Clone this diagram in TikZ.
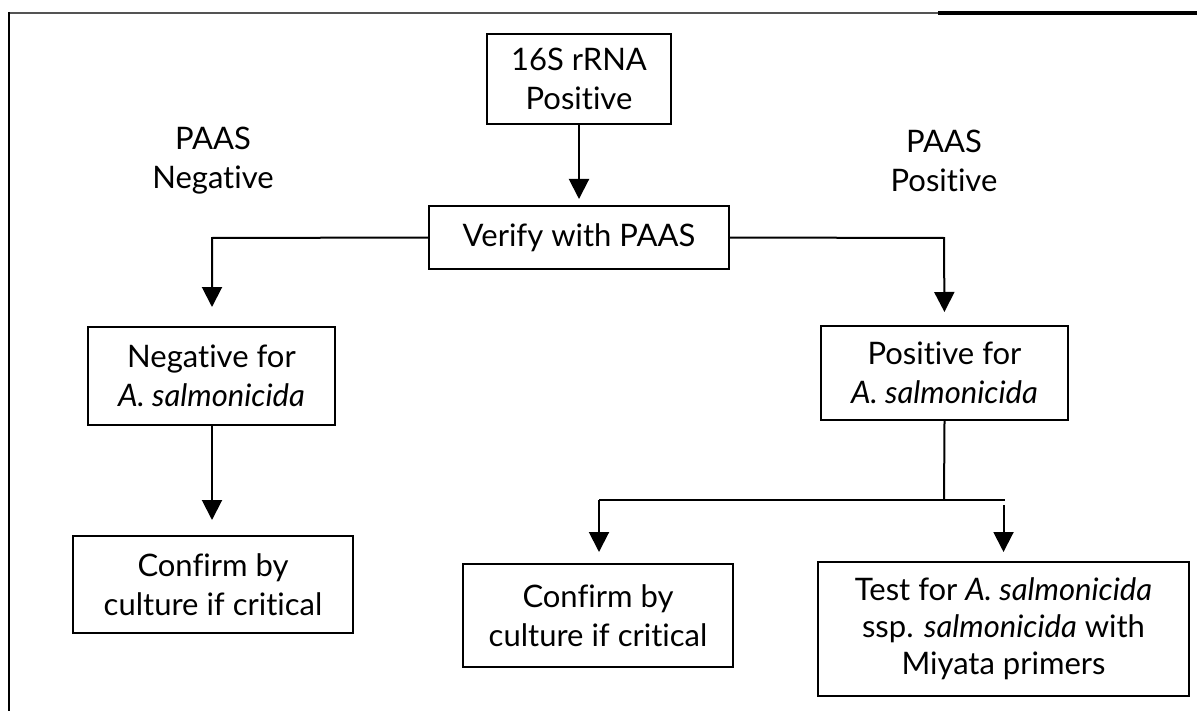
\documentclass[tikz,border=0pt]{standalone}
\usepackage{fontspec}
\setmainfont[Ligatures=CommonOff]{Lato}
\usetikzlibrary{arrows.meta}
\begin{document}
\begin{tikzpicture}[x=0.5pt,y=-0.5pt,
  box/.style={draw,line width=1pt,inner sep=0pt,align=center,font=\fontsize{15.5}{19.5}\selectfont},
  lbl/.style={align=center,inner sep=0pt,font=\fontsize{15.5}{19.5}\selectfont},
  arr/.style={line width=1pt,-{Triangle[width=10pt,length=10pt]}},
  ln/.style={line width=1pt}]
\useasboundingbox (0,0) rectangle (1197,711);
% frame
\draw[line width=1pt,color=black!67] (8,13) -- (938,13);
\draw[line width=1.6pt] (938,13) -- (1197,13);
\draw[line width=1.2pt] (9,12) -- (9,711);
% nodes
\node[box,minimum width=92pt,minimum height=45pt] (A) at (579,79) {16S rRNA\\Positive};
\node[box,minimum width=150pt,minimum height=31.5pt] (V) at (579,237.5) {Verify with PAAS};
\node[lbl] (LN) at (213,161) {PAAS\\Negative};
\node[lbl] (LP) at (944,161) {PAAS\\Positive};
\node[box,minimum width=123.5pt,minimum height=49pt] (N) at (211.5,376) {Negative for\\\textit{A. salmonicida}};
\node[box,minimum width=123.5pt,minimum height=47pt] (P) at (944.5,373) {Positive for\\\textit{A. salmonicida}};
\node[box,minimum width=140pt,minimum height=48.5pt] (C1) at (213,584.5) {Confirm by\\culture if critical};
\node[box,minimum width=135pt,minimum height=51.5pt] (C2) at (598,615.5) {Confirm by\\culture if critical};
\node[box,minimum width=185.5pt,minimum height=67pt,font=\fontsize{15.5}{18.5}\selectfont] (T) at (1003.5,629) {Test for \textit{A. salmonicida}\\ssp. \textit{salmonicida} with\\Miyata primers};
% junction coordinates
\coordinate (jl) at (212,238);
\coordinate (jr) at (944,238);
\coordinate (jm) at (944,500);
\coordinate (bl) at (599,500);
\coordinate (br) at (1005,500);
% connectors
\draw[arr,shorten >=3pt] (A) -- (V);
\draw[arr,shorten >=9.5pt] (V.west) -- (jl) -- (N.north -| jl);
\draw[arr,shorten >=6.5pt] (V.east) -- (jr) -- (P.north);
\draw[arr,shorten >=7.5pt] (N.south -| jl) -- (C1.north -| jl);
\draw[ln] (P.south) -- (jm);
\draw[ln] (bl) -- (br);
\draw[arr,shorten >=5.5pt] (bl) -- (C2.north -| bl);
\draw[arr,shorten >=4.5pt] ([yshift=-2.5pt]br -| T.north) -- (T.north);
\end{tikzpicture}
\end{document}
